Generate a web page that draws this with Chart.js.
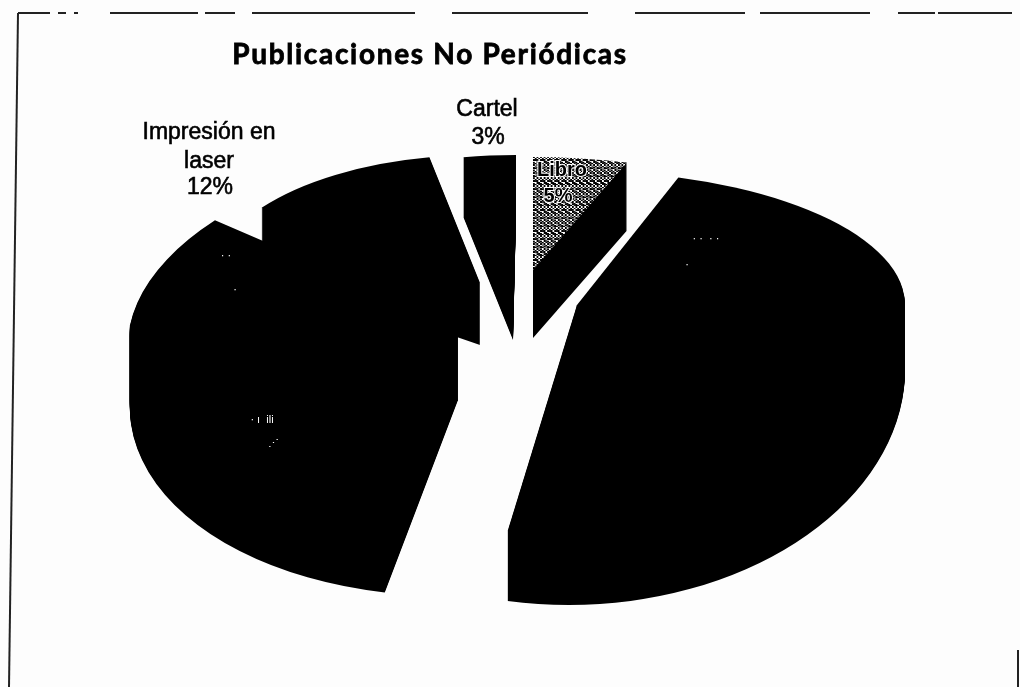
<!DOCTYPE html>
<html><head><meta charset="utf-8">
<style>html,body{margin:0;padding:0;background:#fdfdfd}canvas{display:block}</style>
<script src="https://cdn.jsdelivr.net/npm/chart.js@4"></script>
</head><body><canvas id="c" width="1020" height="687"></canvas>
<script>
const categories = ["Libro", "Folleto", "Afiche", "Impresión en laser", "Cartel"];
const shares = [5, 48, 32, 12, 3];
const titleText = "Publicaciones No Periódicas";

// apex, horizontal radius, vertical radius above/below, shear above/below and wall height of each wedge
const geometry = [
  {x:533,y:270,rx:304,ryT:113,ryB:113,kT:0,kB:0,h:68},
  {x:577,y:305,rx:328,ryT:134,ryB:230,kT:0,kB:-8,h:70},
  {x:458,y:325,rx:328,ryT:178,ryB:196,kT:-38,kB:-12,h:75},
  {x:480,y:283,rx:270,ryT:128,ryB:128,kT:0,kB:0,h:62},
  {x:513,y:280,rx:280,ryT:125,ryB:125,kT:-3,kB:0,h:60}
];

const tile = document.createElement('canvas'); tile.width = tile.height = 8;
const tc = tile.getContext('2d');
tc.fillStyle = '#000'; tc.fillRect(0,0,8,8);
tc.fillStyle = '#fff';
[[0,0],[4,1],[2,3],[6,4],[0,5],[4,6]].forEach(p=>tc.fillRect(p[0],p[1],2,2));

function drawWedge(ctx, arc, g, shift, fill){
  const R = arc.outerRadius, saved = arc.options;
  arc.options = Object.assign({}, saved, {backgroundColor: fill});
  [[-2000, g.y+shift+1, g.ryT, g.kT], [g.y+shift, 4000, g.ryB, g.kB]].forEach(([top,h,ry,k])=>{
    ctx.save();
    ctx.beginPath();
    if (top < 0) ctx.rect(-100, 0, 1300, h); else ctx.rect(-100, top, 1300, h);
    ctx.clip();
    ctx.translate(g.x, g.y+shift);
    ctx.transform(g.rx/R, 0, k/R, ry/R, 0, 0);
    ctx.translate(-arc.x, -arc.y);
    arc.draw(ctx);
    ctx.restore();
  });
  arc.options = saved;
}

const perspective = {
  id:'perspective',
  beforeDatasetDraw(chart){
    const ctx = chart.ctx, arcs = chart.getDatasetMeta(0).data;
    arcs.forEach((arc,i)=>{
      const g = geometry[i];
      for (let d=g.h; d>=1; d--) drawWedge(ctx, arc, g, d, '#000');
    });
    arcs.forEach((arc,i)=>{
      const fill = i===0 ? ctx.createPattern(tile,'repeat') : '#000';
      drawWedge(ctx, arc, geometry[i], 0, fill);
    });
    return false;
  },
  afterDraw(chart){
    const ctx = chart.ctx;
    ctx.save();
    ctx.textAlign='center'; ctx.textBaseline='alphabetic';
    ctx.fillStyle='#000';
    ctx.strokeStyle='#000'; ctx.lineWidth=0.8;
    ctx.font='bold 28px Lato, "Open Sans", sans-serif';
    ctx.letterSpacing='1.7px';
    ctx.fillText(titleText, 430, 64);
    ctx.strokeText(titleText, 430, 64);
    ctx.letterSpacing='0px';
    ctx.textBaseline='middle';
    ctx.font='23px "Liberation Sans", Arial, sans-serif';
    ctx.lineWidth=0.6;
    [["Impresión en",209,133],["laser",209,162],["12%",210,188],["Cartel",487,110],["3%",488,138]].forEach(t=>{
      ctx.fillText(t[0],t[1],t[2]); ctx.strokeText(t[0],t[1],t[2]);
    });
    ctx.font='bold 20px "Liberation Sans", Arial, sans-serif';
    ctx.strokeStyle='#fff'; ctx.lineWidth=2;
    [["Libro",562,170],["5%",558,196]].forEach(t=>{
      ctx.strokeText(t[0],t[1],t[2]); ctx.fillText(t[0],t[1],t[2]);
    });
    ctx.fillStyle='#fff';
    ctx.font='11px "Liberation Sans", Arial, sans-serif';
    ctx.fillText("· ı  ili",262,420);
    ctx.fillText("⋰",273,444);
    ctx.fillText("· ·  · ·",706,239);
    ctx.fillText("·",687,265);
    ctx.fillText("· ·",226,256);
    ctx.fillText("·",235,290);
    // scanned frame
    ctx.strokeStyle='#222'; ctx.lineWidth=2;
    const seg=(a,b,c,d)=>{ctx.beginPath();ctx.moveTo(a,b);ctx.lineTo(c,d);ctx.stroke();};
    seg(18,13,9,687);
    [[18,50],[58,66],[74,78],[110,198],[205,235],[252,415],[452,588],[635,745],[760,870],[898,935],[938,1012]]
      .forEach(s=>seg(s[0],13,s[1],13));
    seg(1018,650,1018,687);
    ctx.restore();
  }
};

new Chart(document.getElementById('c'), {
  type:'pie',
  data:{labels:categories, datasets:[{data:shares, backgroundColor:'#000', borderWidth:0, offset:0}]},
  options:{
    responsive:false, animation:false,
    rotation:0,
    layout:{padding:0},
    plugins:{legend:{display:false}, tooltip:{enabled:false}}
  },
  plugins:[perspective]
});
</script></body></html>
